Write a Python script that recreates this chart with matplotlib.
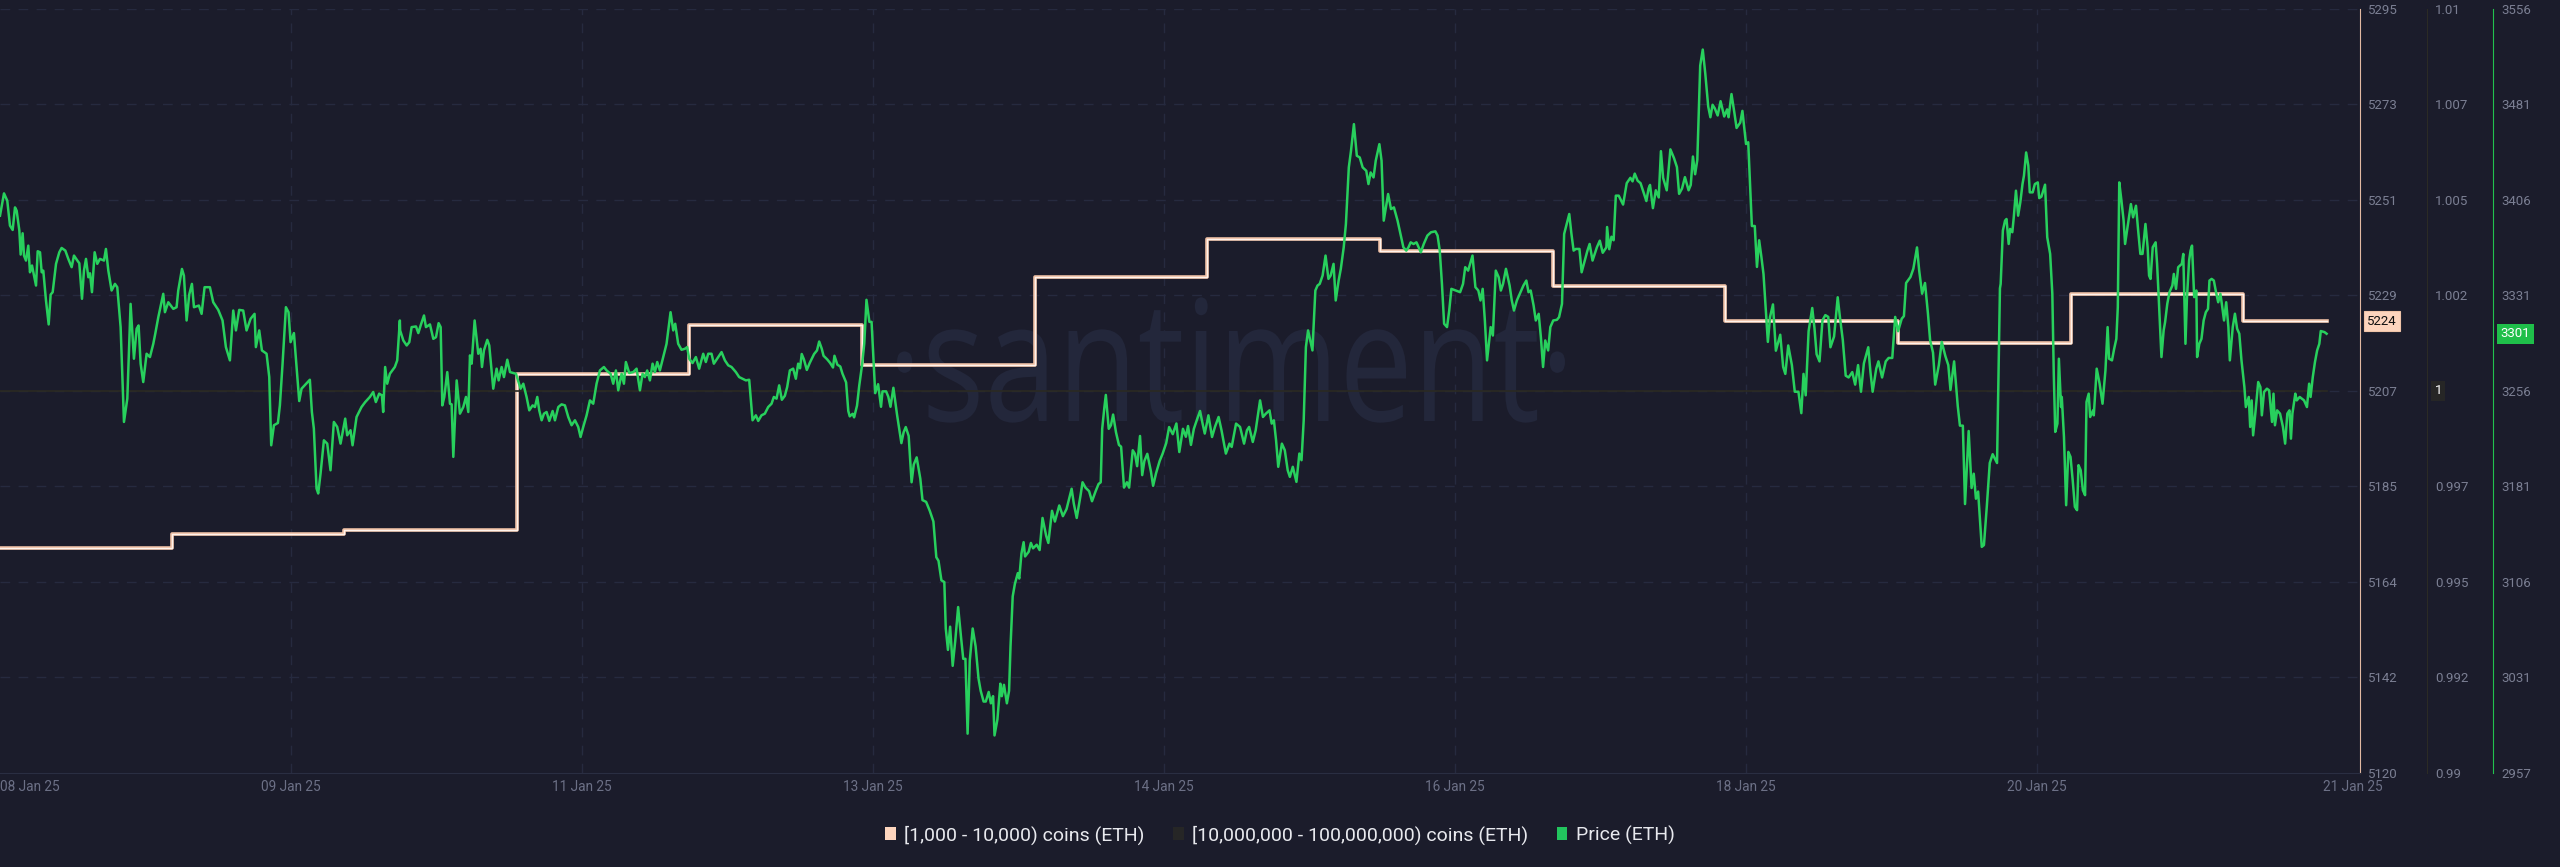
import matplotlib.pyplot as plt
from matplotlib.patches import Patch, PathPatch
from matplotlib.textpath import TextPath
from matplotlib.font_manager import FontProperties
from matplotlib.transforms import Affine2D
import numpy as np

plt.rcParams['font.family'] = ['Roboto', 'DejaVu Sans']

BG = '#1b1c2b'
PEACH = '#fdd5be'
GREEN = '#28d05d'

# x axis: hours since the first sample
date_hours = [0, 40, 80, 120, 160, 200, 240, 280, 323.4]
date_labels = ['08 Jan 25', '09 Jan 25', '11 Jan 25', '13 Jan 25', '14 Jan 25',
               '16 Jan 25', '18 Jan 25', '20 Jan 25', '21 Jan 25']

# holders with 1,000 - 10,000 ETH (daily values)
step_hours = [0, 23.7, 47.3, 71.0, 94.7, 118.5, 142.3, 165.9, 189.7, 213.4,
              237.1, 260.9, 284.7, 308.3, 319.9]
holders_1k = [5171.6, 5174.7, 5175.6, 5211.4, 5222.5, 5213.5, 5233.5, 5242.3,
              5239.5, 5231.5, 5223.4, 5218.5, 5229.6, 5223.5, 5223.5]

# holders with 10M - 100M ETH (flat)
big_hours = [0, 319.9]
holders_10m = [1, 1]

# ETH price (hour, usd)
price_points = [
    (0.0, 3393.9), (0.55, 3411.4), (1.0, 3405.6), (1.37, 3386.1), (1.74, 3382.7), (2.06, 3400.4),
    (2.29, 3397.8), (2.66, 3382.2), (2.84, 3363.4), (3.11, 3380.1), (3.3, 3362.6), (3.57, 3358.7),
    (3.89, 3370.4), (4.12, 3349.5), (4.4, 3354.8), (4.95, 3339.1), (5.18, 3366.0), (5.5, 3365.2),
    (5.73, 3349.5), (5.95, 3350.8), (6.32, 3327.4), (6.69, 3308.6), (6.96, 3332.0), (7.24, 3333.9),
    (7.7, 3356.1), (8.15, 3365.2), (8.47, 3368.6), (8.98, 3366.5), (9.39, 3360.0), (9.85, 3353.5),
    (10.17, 3362.6), (10.63, 3358.7), (10.9, 3356.6), (11.27, 3328.7), (11.54, 3350.8), (11.82, 3360.0),
    (12.14, 3345.6), (12.37, 3348.7), (12.64, 3333.9), (13.01, 3365.2), (13.37, 3356.1), (13.74, 3360.0),
    (14.29, 3358.7), (14.56, 3367.8), (14.89, 3350.8), (15.34, 3335.2), (15.8, 3340.4), (16.12, 3337.8),
    (16.58, 3306.5), (17.04, 3232.1), (17.5, 3250.4), (17.95, 3324.7), (18.41, 3281.7), (18.78, 3305.2),
    (19.05, 3307.8), (19.33, 3277.8), (19.69, 3263.4), (20.15, 3285.6), (20.61, 3283.0), (21.07, 3293.4),
    (21.34, 3301.3), (21.76, 3314.3), (22.44, 3332.6), (22.67, 3318.2), (23.13, 3326.0), (23.82, 3320.8),
    (24.27, 3322.1), (24.5, 3335.2), (25.01, 3352.1), (25.28, 3346.9), (25.65, 3311.7), (26.01, 3332.0),
    (26.38, 3340.4), (26.66, 3322.1), (27.34, 3323.4), (27.71, 3316.9), (28.12, 3337.8), (28.85, 3337.8),
    (29.31, 3326.0), (30.0, 3320.0), (30.59, 3311.7), (31.05, 3290.8), (31.6, 3280.4), (32.06, 3319.5),
    (32.43, 3303.9), (32.88, 3320.0), (33.43, 3319.5), (33.89, 3303.9), (34.44, 3313.0), (34.99, 3316.9),
    (35.17, 3290.8), (35.63, 3303.9), (36.0, 3288.2), (36.64, 3285.6), (37.01, 3267.3), (37.28, 3213.8),
    (37.65, 3229.5), (38.2, 3231.3), (38.47, 3245.1), (38.84, 3277.8), (39.3, 3322.1), (39.66, 3318.2),
    (39.94, 3294.7), (40.4, 3301.8), (40.76, 3275.2), (41.13, 3248.5), (41.45, 3258.2), (42.59, 3265.2),
    (42.87, 3239.9), (43.14, 3226.9), (43.51, 3179.9), (43.74, 3176.0), (44.06, 3191.6), (44.52, 3217.7),
    (44.98, 3215.1), (45.43, 3194.2), (45.89, 3232.1), (46.35, 3228.2), (46.81, 3215.1), (47.45, 3234.7),
    (47.72, 3221.6), (48.18, 3225.6), (48.46, 3213.8), (49.01, 3236.0), (49.69, 3243.8), (50.2, 3247.7),
    (50.84, 3251.7), (51.3, 3255.6), (51.66, 3247.7), (52.12, 3254.3), (52.49, 3253.0), (52.67, 3239.9),
    (52.94, 3275.2), (53.22, 3262.1), (53.59, 3269.9), (54.27, 3275.2), (54.6, 3280.4), (54.96, 3311.7),
    (55.0, 3303.9), (55.44, 3296.0), (55.9, 3292.1), (56.26, 3294.7), (56.58, 3306.5), (57.18, 3307.0),
    (57.5, 3301.8), (57.82, 3307.8), (58.28, 3315.6), (58.55, 3306.5), (59.1, 3308.6), (59.56, 3297.3),
    (59.93, 3298.6), (60.29, 3309.6), (60.57, 3306.5), (60.8, 3245.1), (61.07, 3251.7), (61.48, 3271.2),
    (61.85, 3246.4), (62.08, 3245.9), (62.31, 3204.7), (62.77, 3264.7), (63.22, 3238.6), (63.68, 3243.8),
    (64.05, 3251.7), (64.37, 3239.9), (64.6, 3284.3), (64.83, 3277.8), (65.24, 3311.7), (65.74, 3285.6),
    (66.06, 3289.5), (66.25, 3275.2), (66.52, 3288.2), (66.98, 3296.5), (67.25, 3292.1), (67.8, 3258.2),
    (68.26, 3273.9), (68.54, 3264.7), (68.95, 3275.2), (69.27, 3267.3), (69.73, 3280.9), (70.1, 3271.2),
    (70.55, 3270.5), (70.92, 3269.9), (71.28, 3263.4), (71.56, 3258.2), (71.93, 3262.1), (72.38, 3251.7),
    (72.75, 3241.2), (73.21, 3245.1), (73.53, 3243.8), (73.85, 3251.7), (74.12, 3241.2), (74.45, 3233.4),
    (74.77, 3238.6), (75.13, 3239.9), (75.5, 3232.9), (75.96, 3240.7), (76.28, 3233.4), (76.74, 3243.8),
    (77.19, 3245.9), (77.65, 3245.1), (78.11, 3236.0), (78.57, 3229.5), (79.03, 3233.4), (79.48, 3228.2),
    (79.8, 3220.3), (80.17, 3228.2), (80.63, 3237.3), (81.09, 3249.0), (81.54, 3246.4), (82.0, 3262.1),
    (82.46, 3272.5), (83.01, 3275.2), (83.38, 3272.5), (83.93, 3269.9), (84.29, 3262.1), (84.66, 3272.5),
    (84.98, 3256.9), (85.44, 3269.9), (85.76, 3262.1), (86.03, 3279.1), (86.49, 3270.5), (87.04, 3271.2),
    (87.5, 3273.9), (87.96, 3256.9), (88.32, 3269.9), (88.64, 3267.3), (88.96, 3272.5), (89.33, 3264.7),
    (89.7, 3277.8), (90.02, 3271.2), (90.34, 3279.1), (90.7, 3272.5), (91.16, 3283.0), (91.62, 3293.4),
    (92.17, 3318.2), (92.54, 3303.9), (92.81, 3309.1), (93.22, 3293.4), (93.68, 3288.7), (94.14, 3289.5),
    (94.46, 3290.8), (94.73, 3281.7), (95.19, 3278.3), (95.65, 3283.0), (96.1, 3273.9), (96.66, 3285.6),
    (97.02, 3279.1), (97.35, 3285.6), (97.8, 3285.6), (98.12, 3277.8), (98.58, 3281.7), (99.18, 3286.9),
    (99.64, 3280.4), (100.1, 3276.5), (100.55, 3275.2), (101.15, 3271.2), (101.6, 3267.3), (102.06, 3266.0),
    (102.52, 3264.7), (102.98, 3265.2), (103.44, 3233.4), (103.9, 3237.3), (104.22, 3232.9), (104.67, 3237.3),
    (105.13, 3238.6), (105.59, 3243.8), (106.05, 3246.4), (106.37, 3251.7), (106.74, 3250.4), (107.1, 3260.8),
    (107.47, 3249.5), (107.88, 3252.6), (108.2, 3259.5), (108.57, 3272.5), (109.02, 3273.9), (109.39, 3266.0),
    (109.71, 3277.8), (109.97, 3274.2), (110.2, 3285.4), (110.5, 3281.2), (110.9, 3272.9), (111.3, 3278.4),
    (111.9, 3285.4), (112.3, 3288.2), (112.6, 3295.2), (112.95, 3289.6), (113.2, 3284.0), (113.7, 3281.2),
    (114.1, 3278.4), (114.5, 3274.8), (114.7, 3284.0), (115.1, 3277.0), (115.5, 3275.6), (115.8, 3270.0),
    (116.3, 3263.1), (116.6, 3240.7), (116.8, 3236.5), (117.2, 3238.5), (117.4, 3235.7), (117.8, 3244.9),
    (118.1, 3260.3), (118.5, 3277.0), (118.8, 3293.8), (119.1, 3327.9), (119.5, 3310.6), (119.8, 3310.6),
    (120.1, 3277.0), (120.3, 3254.7), (120.7, 3261.7), (121.1, 3244.0), (121.3, 3256.1), (121.8, 3256.1),
    (122.1, 3251.9), (122.4, 3244.0), (122.8, 3258.9), (123.3, 3237.9), (123.6, 3226.7), (123.9, 3215.5),
    (124.2, 3223.9), (124.5, 3228.1), (124.9, 3221.1), (125.3, 3184.8), (125.6, 3198.7), (126.0, 3204.3),
    (126.5, 3187.6), (126.8, 3170.8), (127.3, 3169.4), (127.8, 3162.4), (128.3, 3154.0), (128.7, 3126.0),
    (129.0, 3123.2), (129.4, 3107.9), (129.8, 3106.5), (130.0, 3070.1), (130.3, 3053.3), (130.6, 3071.5),
    (130.95, 3040.8), (131.3, 3060.3), (131.7, 3086.9), (132.1, 3063.1), (132.4, 3046.3), (132.7, 3046.3),
    (133.0, 2987.6), (133.3, 3044.9), (133.7, 3070.1), (134.1, 3056.1), (134.5, 3030.9), (134.8, 3021.2),
    (135.2, 3012.8), (135.5, 3012.8), (135.9, 3020.3), (136.2, 3011.4), (136.5, 3017.0), (136.7, 2986.2),
    (137.1, 2998.8), (137.5, 3026.8), (137.7, 3017.0), (138.0, 3025.9), (138.4, 3011.4), (138.7, 3021.2),
    (138.9, 3056.1), (139.2, 3095.3), (139.5, 3105.1), (139.9, 3113.5), (140.1, 3109.3), (140.4, 3128.8),
    (140.7, 3137.8), (140.9, 3126.6), (141.4, 3130.3), (141.7, 3137.2), (142.0, 3133.0), (142.5, 3135.8),
    (142.9, 3131.6), (143.3, 3156.8), (143.8, 3142.8), (144.1, 3137.2), (144.6, 3162.4), (145.0, 3154.0),
    (145.6, 3166.6), (146.1, 3158.2), (146.6, 3163.8), (147.3, 3179.7), (147.6, 3168.0), (148.0, 3156.8),
    (148.5, 3173.6), (148.8, 3184.8), (149.2, 3180.6), (149.7, 3177.8), (150.1, 3169.9), (150.6, 3177.8),
    (151.0, 3183.4), (151.3, 3184.8), (151.5, 3226.7), (151.8, 3243.5), (152.0, 3253.3), (152.4, 3226.7),
    (152.7, 3229.5), (153.0, 3237.9), (153.4, 3223.9), (153.8, 3214.1), (154.1, 3212.7), (154.5, 3180.6),
    (154.9, 3184.8), (155.2, 3180.6), (155.7, 3209.9), (156.0, 3207.1), (156.3, 3197.4), (156.7, 3221.1),
    (157.0, 3190.4), (157.3, 3201.5), (157.7, 3207.1), (158.2, 3193.2), (158.5, 3182.0), (158.9, 3191.8),
    (159.4, 3201.5), (159.8, 3207.1), (160.3, 3215.5), (160.7, 3228.1), (161.2, 3222.5), (161.7, 3230.9),
    (162.1, 3208.5), (162.6, 3226.7), (163.0, 3220.5), (163.3, 3228.9), (163.7, 3214.1), (164.1, 3226.7),
    (164.6, 3235.1), (164.95, 3240.7), (165.3, 3230.8), (165.6, 3223.0), (166.1, 3237.3), (166.6, 3220.3),
    (167.0, 3228.2), (167.5, 3236.0), (167.9, 3225.6), (168.5, 3207.3), (169.0, 3215.1), (169.3, 3212.5),
    (169.9, 3230.8), (170.45, 3228.2), (171.0, 3215.1), (171.4, 3225.6), (171.7, 3228.2), (172.2, 3216.4),
    (172.6, 3225.6), (173.2, 3249.0), (173.6, 3236.0), (174.0, 3238.6), (174.5, 3241.2), (174.8, 3230.8),
    (175.1, 3233.4), (175.4, 3217.7), (175.7, 3196.9), (176.2, 3215.1), (176.6, 3209.9), (177.0, 3194.2),
    (177.3, 3189.0), (177.7, 3196.9), (178.2, 3185.1), (178.6, 3207.3), (178.9, 3202.1), (179.2, 3233.4),
    (179.5, 3290.8), (179.8, 3303.9), (180.4, 3288.2), (180.8, 3335.2), (181.1, 3339.1), (181.4, 3340.4),
    (181.8, 3347.0), (182.2, 3362.6), (182.6, 3344.3), (182.9, 3346.9), (183.3, 3356.1), (183.6, 3327.4),
    (184.0, 3343.0), (184.3, 3352.2), (184.7, 3369.1), (185.0, 3387.4), (185.4, 3431.8), (185.7, 3444.8),
    (186.1, 3465.7), (186.5, 3440.9), (186.9, 3439.6), (187.3, 3431.8), (187.8, 3429.1), (188.1, 3418.7),
    (188.4, 3427.8), (188.8, 3423.9), (189.1, 3437.0), (189.6, 3450.0), (189.9, 3437.0), (190.2, 3390.0),
    (190.5, 3400.4), (190.8, 3410.9), (191.2, 3399.1), (191.6, 3400.4), (192.1, 3390.0), (192.4, 3382.2),
    (192.9, 3369.1), (193.3, 3366.5), (193.6, 3369.1), (193.9, 3373.0), (194.3, 3371.7), (194.7, 3373.0),
    (195.3, 3365.2), (195.7, 3371.7), (196.2, 3378.3), (196.7, 3380.9), (197.3, 3381.6), (197.6, 3378.3),
    (197.9, 3366.5), (198.2, 3340.4), (198.5, 3309.1), (198.9, 3306.5), (199.2, 3319.5), (199.5, 3336.5),
    (200.1, 3335.2), (200.7, 3333.9), (201.1, 3340.4), (201.4, 3353.5), (201.8, 3350.8), (202.2, 3358.7),
    (202.4, 3362.6), (202.8, 3337.8), (203.2, 3335.2), (203.5, 3327.4), (203.8, 3336.5), (204.1, 3311.7),
    (204.4, 3280.4), (204.9, 3306.5), (205.2, 3299.9), (205.6, 3350.8), (206.0, 3345.6), (206.3, 3335.2),
    (206.6, 3340.4), (207.0, 3352.2), (207.5, 3339.1), (207.8, 3327.4), (208.1, 3319.5), (208.5, 3327.4),
    (208.9, 3332.6), (209.4, 3339.1), (209.8, 3343.0), (210.1, 3333.9), (210.4, 3335.2), (210.8, 3323.4),
    (211.1, 3311.7), (211.5, 3316.9), (211.8, 3298.6), (212.1, 3275.2), (212.4, 3296.0), (212.8, 3288.2),
    (213.1, 3306.5), (213.5, 3311.7), (214.0, 3312.2), (214.3, 3314.3), (214.7, 3324.7), (215.0, 3379.6),
    (215.4, 3388.7), (215.7, 3395.2), (216.0, 3379.6), (216.3, 3366.5), (216.6, 3367.8), (217.1, 3367.8),
    (217.4, 3349.5), (217.9, 3360.0), (218.2, 3366.5), (218.5, 3371.7), (218.9, 3358.7), (219.5, 3369.1),
    (219.9, 3374.3), (220.3, 3364.8), (220.8, 3369.0), (220.9, 3385.0), (221.2, 3367.6), (221.5, 3377.4),
    (221.8, 3374.6), (222.1, 3409.6), (222.5, 3409.6), (223.1, 3402.6), (223.6, 3419.4), (224.1, 3423.6),
    (224.4, 3420.8), (224.7, 3426.9), (225.1, 3421.3), (225.5, 3419.4), (225.9, 3412.4), (226.3, 3405.4),
    (226.6, 3415.2), (226.8, 3418.0), (227.2, 3399.8), (227.6, 3413.8), (228.0, 3408.2), (228.3, 3444.5),
    (228.6, 3423.6), (229.1, 3413.8), (229.6, 3445.9), (230.1, 3439.0), (230.5, 3432.0), (230.8, 3411.0),
    (231.2, 3415.2), (231.6, 3424.1), (232.1, 3413.8), (232.4, 3418.0), (232.7, 3440.3), (233.0, 3426.4),
    (233.3, 3437.5), (233.7, 3511.6), (234.05, 3524.2), (234.4, 3505.2), (234.8, 3479.5), (235.1, 3471.1),
    (235.4, 3480.9), (235.7, 3478.1), (236.1, 3472.5), (236.5, 3483.7), (237.0, 3471.7), (237.4, 3477.3),
    (237.6, 3471.1), (238.0, 3489.3), (238.4, 3474.5), (238.7, 3462.7), (239.2, 3466.9), (239.5, 3476.1),
    (240.0, 3450.1), (240.3, 3451.5), (240.8, 3385.8), (241.2, 3385.8), (241.5, 3353.7), (241.8, 3374.6),
    (242.1, 3362.0), (242.4, 3348.1), (243.0, 3294.9), (243.3, 3314.5), (243.7, 3324.3), (244.1, 3288.0),
    (244.7, 3300.5), (245.1, 3275.3), (245.4, 3269.8), (245.8, 3292.1), (246.3, 3276.7), (246.7, 3255.8),
    (247.2, 3255.8), (247.6, 3239.0), (247.9, 3269.8), (248.2, 3253.0), (248.6, 3303.3), (249.1, 3321.5),
    (249.4, 3306.1), (249.7, 3285.2), (250.1, 3279.6), (250.5, 3311.7), (250.9, 3315.9), (251.3, 3314.5),
    (251.6, 3290.7), (252.1, 3299.1), (252.6, 3329.9), (252.9, 3314.5), (253.3, 3296.3), (253.7, 3268.4),
    (254.1, 3267.0), (254.6, 3271.2), (255.0, 3261.4), (255.4, 3276.7), (255.8, 3255.8), (256.2, 3278.1),
    (256.8, 3290.7), (257.1, 3271.2), (257.4, 3255.8), (257.9, 3274.0), (258.2, 3279.6), (258.7, 3267.0),
    (259.2, 3279.6), (259.6, 3282.3), (260.1, 3282.3), (260.5, 3314.5), (260.9, 3303.3), (261.4, 3313.1),
    (261.7, 3315.1), (262.0, 3341.1), (262.6, 3345.8), (263.0, 3352.3), (263.5, 3369.0), (263.8, 3350.9),
    (264.2, 3332.7), (264.6, 3341.1), (265.0, 3317.3), (265.3, 3296.3), (265.7, 3286.5), (266.0, 3261.4),
    (266.5, 3276.7), (266.9, 3294.9), (267.4, 3283.7), (267.8, 3276.7), (268.1, 3257.2), (268.6, 3279.6),
    (269.1, 3244.6), (269.4, 3229.2), (269.8, 3229.2), (270.1, 3167.7), (270.6, 3225.0), (271.0, 3180.3),
    (271.3, 3191.5), (271.6, 3171.9), (271.9, 3177.5), (272.4, 3134.1), (272.7, 3135.5), (273.1, 3166.3),
    (273.5, 3199.9), (273.9, 3206.8), (274.5, 3199.9), (274.7, 3267.0), (274.9, 3336.9), (275.0, 3340.4),
    (275.3, 3382.2), (275.6, 3390.0), (275.8, 3391.3), (276.1, 3371.7), (276.3, 3383.5), (276.6, 3380.9),
    (276.8, 3392.6), (277.1, 3413.5), (277.4, 3393.9), (277.7, 3404.4), (278.0, 3418.7), (278.2, 3425.2),
    (278.5, 3443.5), (278.8, 3433.1), (279.0, 3412.2), (279.4, 3412.2), (279.7, 3418.7), (280.1, 3420.0),
    (280.3, 3407.7), (280.6, 3408.8), (281.1, 3418.2), (281.4, 3377.0), (281.8, 3363.9), (282.1, 3332.6),
    (282.3, 3269.9), (282.5, 3224.3), (282.8, 3230.8), (283.0, 3281.7), (283.3, 3243.8), (283.4, 3251.7),
    (283.7, 3220.3), (284.0, 3166.8), (284.3, 3208.6), (284.6, 3204.7), (284.9, 3186.4), (285.2, 3165.5),
    (285.5, 3162.9), (285.7, 3198.2), (286.0, 3194.2), (286.3, 3178.6), (286.6, 3174.7), (286.8, 3247.8),
    (287.1, 3254.3), (287.3, 3236.0), (287.7, 3241.2), (287.8, 3237.3), (288.2, 3273.9), (288.6, 3262.1),
    (289.0, 3246.4), (289.4, 3272.5), (289.7, 3306.5), (289.9, 3281.7), (290.3, 3280.4), (290.6, 3289.5),
    (290.9, 3297.3), (291.1, 3322.1), (291.3, 3420.0), (291.6, 3405.7), (291.9, 3390.0), (292.1, 3371.7),
    (292.4, 3383.5), (292.9, 3403.0), (293.2, 3392.6), (293.6, 3401.7), (293.9, 3382.2), (294.2, 3363.9),
    (294.5, 3363.9), (294.9, 3387.4), (295.2, 3369.1), (295.4, 3346.9), (295.6, 3344.3), (295.9, 3369.1),
    (296.3, 3373.0), (296.5, 3356.1), (296.7, 3332.6), (297.1, 3283.0), (297.4, 3303.9), (297.6, 3310.4),
    (297.9, 3324.7), (298.2, 3333.9), (298.6, 3339.1), (298.8, 3348.2), (299.1, 3336.5), (299.4, 3353.5),
    (299.9, 3356.1), (300.1, 3363.9), (300.4, 3293.4), (300.6, 3328.7), (300.9, 3358.7), (301.1, 3366.5),
    (301.3, 3370.4), (301.6, 3330.0), (301.9, 3335.2), (302.0, 3283.0), (302.3, 3293.4), (302.6, 3297.3),
    (302.9, 3311.7), (303.2, 3318.2), (303.5, 3320.8), (303.7, 3343.0), (304.0, 3344.3), (304.3, 3343.0),
    (304.6, 3333.9), (304.9, 3326.0), (305.2, 3332.6), (305.4, 3324.7), (305.7, 3311.7), (306.0, 3326.0),
    (306.3, 3306.5), (306.5, 3280.4), (306.9, 3306.5), (307.2, 3317.0), (307.5, 3305.2), (307.8, 3301.3),
    (308.1, 3280.4), (308.5, 3259.5), (308.7, 3243.8), (309.1, 3251.7), (309.3, 3228.2), (309.5, 3249.0),
    (309.7, 3221.6), (310.0, 3238.6), (310.4, 3263.4), (310.7, 3259.5), (310.9, 3237.3), (311.2, 3255.6),
    (311.6, 3258.2), (311.9, 3256.9), (312.3, 3232.1), (312.5, 3254.3), (312.7, 3229.5), (313.0, 3241.2),
    (313.4, 3238.6), (313.8, 3228.2), (314.1, 3215.1), (314.4, 3238.6), (314.7, 3241.2), (314.9, 3219.0),
    (315.1, 3238.6), (315.5, 3254.3), (315.7, 3249.0), (316.1, 3251.7), (316.4, 3250.4), (316.7, 3249.0),
    (317.1, 3243.8), (317.4, 3262.1), (317.6, 3251.7), (317.9, 3267.3), (318.2, 3279.1), (318.5, 3288.2),
    (318.8, 3293.4), (319.0, 3303.4), (319.5, 3302.6), (319.8, 3301.3),
]
price_hours = [p[0] for p in price_points]
price_usd = [p[1] for p in price_points]

# right-hand scales
left_ticks = np.linspace(5120, 5295, 9)
left_labels = ['5120', '5142', '5164', '5185', '5207', '5229', '5251', '5273', '5295']
mid_ticks = np.linspace(0.99, 1.01, 9)
mid_labels = ['0.99', '0.992', '0.995', '0.997', '', '1.002', '1.005', '1.007', '1.01']
price_ticks = np.linspace(2957, 3556, 9)
price_labels = ['2957', '3031', '3106', '3181', '3256', '3331', '3406', '3481', '3556']

legend_labels = ['[1,000 - 10,000) coins (ETH)',
                 '[10,000,000 - 100,000,000) coins (ETH)',
                 'Price (ETH)']

fig = plt.figure(figsize=(25.6, 8.67), dpi=100, facecolor=BG)
ax = fig.add_axes([0, 0.1088, 0.9219, 0.8808])
ax.set_facecolor(BG)

grid_kw = dict(color='#262a3f', lw=1.0, ls=(0, (7, 6)), zorder=0.5)
for y in left_ticks[1:]:
    ax.axhline(y, **grid_kw)
for x in date_hours[1:-1]:
    ax.axvline(x, **grid_kw)

# watermark
fp = FontProperties(family='Open Sans')
wm = TextPath((0, 0), '\u00b7santiment\u00b7', size=100, prop=fp)
ext = wm.get_extents()
xh = TextPath((0, 0), 'x', size=100, prop=fp).get_extents().height
sx = 668 / ext.width
sy = 90 / xh
tr = Affine2D().translate(-ext.x0, 0).scale(sx, sy).translate(897, 867 - 421)
ax.add_artist(PathPatch(wm, transform=tr, fc='#23273b', ec='none', zorder=1, clip_on=False))

ax.plot(step_hours, holders_1k, drawstyle='steps-post', color='#efc0a5', lw=2.6, zorder=3)
ax.plot(step_hours, holders_1k, drawstyle='steps-post', color='#fff3ec', lw=1.0, zorder=4)

ax2 = ax.twinx()
ax2.plot(big_hours, holders_10m, color='#2b2a22', lw=1.2)
ax3 = ax.twinx()
ax3.plot(price_hours, price_usd, color=GREEN, lw=1.8)

ax.set_xlim(0, 324.4)
ax.set_ylim(5120, 5295)
ax2.set_ylim(0.99, 1.01)
ax3.set_ylim(2957, 3556)

for a in (ax, ax2, ax3):
    a.spines['top'].set_visible(False)
    a.spines['left'].set_visible(False)
ax2.spines['bottom'].set_visible(False)
ax3.spines['bottom'].set_visible(False)
ax.spines['bottom'].set_color('#2a2e42')
ax.spines['right'].set_color('#e2b9a2')
ax2.spines['right'].set_position(('axes', 1.0284))
ax2.spines['right'].set_color('#2c2b25')
ax3.spines['right'].set_position(('axes', 1.0565))
ax3.spines['right'].set_color('#22c24f')

tick_kw = dict(axis='y', length=0, pad=6, labelsize=9.5, labelcolor='#7b7f93',
               left=False, labelleft=False, right=True, labelright=True)
ax.yaxis.set_ticks_position('right')
ax.set_yticks(left_ticks, left_labels)
ax.tick_params(**tick_kw)
ax2.set_yticks(mid_ticks, mid_labels)
ax2.tick_params(**tick_kw)
ax3.set_yticks(price_ticks, price_labels)
ax3.tick_params(**tick_kw)

ax.set_xticks(date_hours, date_labels)
ax.tick_params(axis='x', length=0, pad=5, labelsize=9.8, labelcolor='#6c7086')
ax.get_xticklabels()[0].set_ha('left')

# last value badges
badge = dict(xytext=(5.3, 0), textcoords='offset points', ha='left', va='center', fontsize=9.5)
ax.annotate('5224', (1.0, holders_1k[-1]), xycoords=('axes fraction', 'data'), color='#111111',
            bbox=dict(boxstyle='square,pad=0.25', fc=PEACH, ec='#f0c4a9', lw=0.8), **badge)
ax2.annotate('1', (1.0284, holders_10m[-1]), xycoords=('axes fraction', 'data'), color='white',
             bbox=dict(boxstyle='square,pad=0.25', fc='#262626', ec='none'), **badge)
ax3.annotate('3301', (1.0565, price_usd[-1]), xycoords=('axes fraction', 'data'), color='white',
             bbox=dict(boxstyle='square,pad=0.25', fc='#1fbf4a', ec='none'), **badge)

handles = [Patch(facecolor=PEACH, edgecolor='none'),
           Patch(facecolor='#262626', edgecolor='none'),
           Patch(facecolor='#22c55e', edgecolor='none')]
fig.legend(handles, legend_labels, loc='center', bbox_to_anchor=(0.5, 0.0369), ncol=3,
           frameon=False, fontsize=14, labelcolor='#e8e9ee', handlelength=0.55,
           handleheight=0.7, handletextpad=0.45, columnspacing=1.45, borderaxespad=0)

fig.savefig('out.png', dpi=100, facecolor=BG)
